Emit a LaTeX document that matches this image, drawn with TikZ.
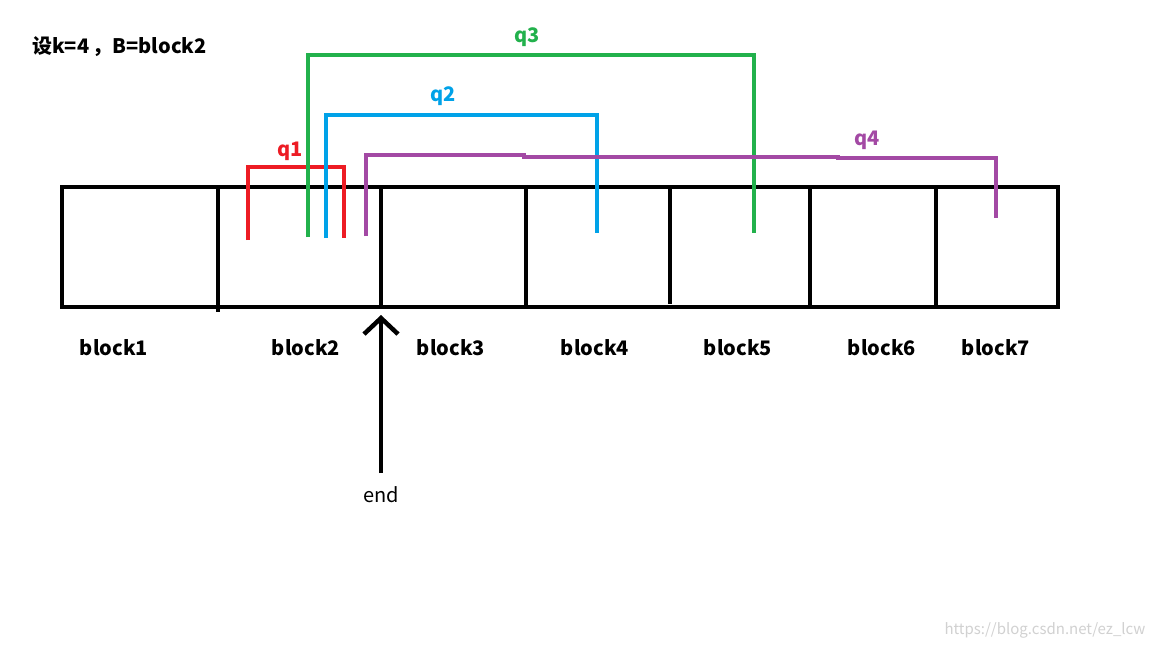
\documentclass[tikz,border=0pt]{standalone}
\usepackage{fontspec}
\setmainfont{Noto Sans CJK SC}
\usetikzlibrary{arrows.meta}
\definecolor{qred}{RGB}{237,28,36}
\definecolor{qgreen}{RGB}{34,177,76}
\definecolor{qblue}{RGB}{0,162,232}
\definecolor{qpurple}{RGB}{163,73,164}
\begin{document}
\begin{tikzpicture}[x=1pt,y=-1pt,
  wall/.style={line width=4.5pt,black},
  qline/.style={line width=4.5pt},
  blabel/.style={font=\fontsize{20}{22}\selectfont\bfseries,inner sep=0pt},
  qlabel/.style={font=\fontsize{20}{22}\selectfont\bfseries,inner sep=0pt}]
\useasboundingbox (0,0) rectangle (1152,648);
\fill[white] (0,0) rectangle (1152,648);
% outer box
\coordinate (tl) at (62,187);
\coordinate (br) at (1058,307);
\draw[wall] (tl) rectangle (br);
% dividers
\coordinate (d1t) at (218,187); \coordinate (d1b) at (218,312);
\coordinate (d2t) at (381,187); \coordinate (d2b) at (381,307);
\coordinate (d3t) at (526,187); \coordinate (d3b) at (526,307);
\coordinate (d4t) at (670,187); \coordinate (d4b) at (670,304);
\coordinate (d5t) at (810,187); \coordinate (d5b) at (810,307);
\coordinate (d6t) at (936,187); \coordinate (d6b) at (936,307);
\foreach \i in {1,...,6} \draw[wall] (d\i t) -- (d\i b);
% block labels
\node[blabel] (b1) at (114,348) {block1};
\node[blabel] (b2) at (306,348) {block2};
\node[blabel] (b3) at (451,348) {block3};
\node[blabel] (b4) at (595,348) {block4};
\node[blabel] (b5) at (738,348) {block5};
\node[blabel] (b6) at (882,348) {block6};
\node[blabel] (b7) at (996,348) {block7};
% title
\node[font=\fontsize{20}{22}\selectfont\bfseries,inner sep=0pt,anchor=west] (title) at (32,47) {设k=4\,，B=block2};
% q1 red
\coordinate (r1) at (248,240); \coordinate (r2) at (248,167);
\coordinate (r3) at (344,167); \coordinate (r4) at (344,238);
\draw[qline,qred] (r1) -- (r2) -- (r3) -- (r4);
\node[qlabel,text=qred] (q1) at (290,151) {q1};
% q3 green
\coordinate (g1) at (308,237); \coordinate (g2) at (308,55);
\coordinate (g3) at (754,55); \coordinate (g4) at (754,233);
\draw[qline,qgreen] (g1) -- (g2) -- (g3) -- (g4);
\node[qlabel,text=qgreen] (q3) at (527,37) {q3};
% q2 blue
\coordinate (c1) at (326,238); \coordinate (c2) at (326,115);
\coordinate (c3) at (597,115); \coordinate (c4) at (597,233);
\draw[qline,qblue] (c1) -- (c2) -- (c3) -- (c4);
\node[qlabel,text=qblue] (q2) at (443,96) {q2};
% q4 purple
\coordinate (p1) at (366,236); \coordinate (p2) at (366,155);
\coordinate (p3) at (524,155); \coordinate (p4) at (524,157);
\coordinate (p5) at (838,157); \coordinate (p6) at (838,158);
\coordinate (p7) at (996,158); \coordinate (p8) at (996,218);
\draw[qline,qpurple,line join=miter] (p1) -- (p2) -- (p3) -- (p4) -- (p5) -- (p6) -- (p7) -- (p8);
\node[qlabel,text=qpurple] (q4) at (867,140) {q4};
% end arrow
\node[font=\fontsize{20}{22}\selectfont,inner sep=0pt] (endl) at (381,495) {end};
\coordinate (etip) at (381,315);
\coordinate (etail) at (381,473);
\draw[line width=4.5pt,-{Straight Barb[length=16pt,width=34pt,line width=4.5pt]}] (etail) -- (etip);
% watermark
\node[font=\fontsize{15}{17}\selectfont,text=black!18,inner sep=0pt] (wm) at (1045,630) {https://blog.csdn.net/ez\_lcw};
\end{tikzpicture}
\end{document}
